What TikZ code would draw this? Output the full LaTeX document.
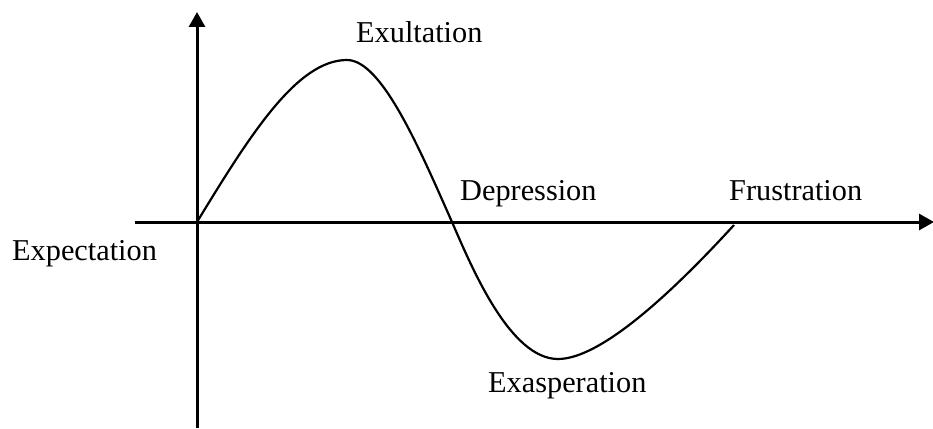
\documentclass[tikz,border=0pt]{standalone}
\usepackage{fontspec}
\setmainfont{Liberation Serif}
\usetikzlibrary{arrows.meta}
\begin{document}
\begin{tikzpicture}[x=1pt,y=-1pt,
  axis/.style={line width=3pt,-{Triangle[length=15pt,width=16pt]}},
  curve/.style={line width=2.2pt},
  lbl/.style={anchor=base west,inner sep=0pt,font=\fontsize{30.3}{36}\selectfont}]
\useasboundingbox (0,0) rectangle (933,428);
\coordinate (vb) at (197,428);
\coordinate (vt) at (197,12);
\coordinate (hl) at (135,222);
\coordinate (hr) at (934,222);
\draw[axis] (vb) -- (vt);
\draw[axis] (hl) -- (hr);
\coordinate (o) at (197,222);
\coordinate (pk) at (347,60);
\coordinate (cr) at (452,222);
\coordinate (tr) at (558,359);
\coordinate (en) at (734,225);
\draw[curve] (o) .. controls (250,135) and (297,60) .. (pk)
  .. controls (382,60) and (420,150) .. (cr)
  .. controls (472,268) and (510,359) .. (tr)
  .. controls (600,359) and (670,295) .. (en);
\node[lbl] (exu) at (356,43) {Exultation};
\node[lbl] (dep) at (460,200) {Depression};
\node[lbl] (fru) at (729,200) {Frustration};
\node[lbl] (exp) at (12,260) {Expectation};
\node[lbl] (exa) at (488,392) {Exasperation};
\end{tikzpicture}
\end{document}
